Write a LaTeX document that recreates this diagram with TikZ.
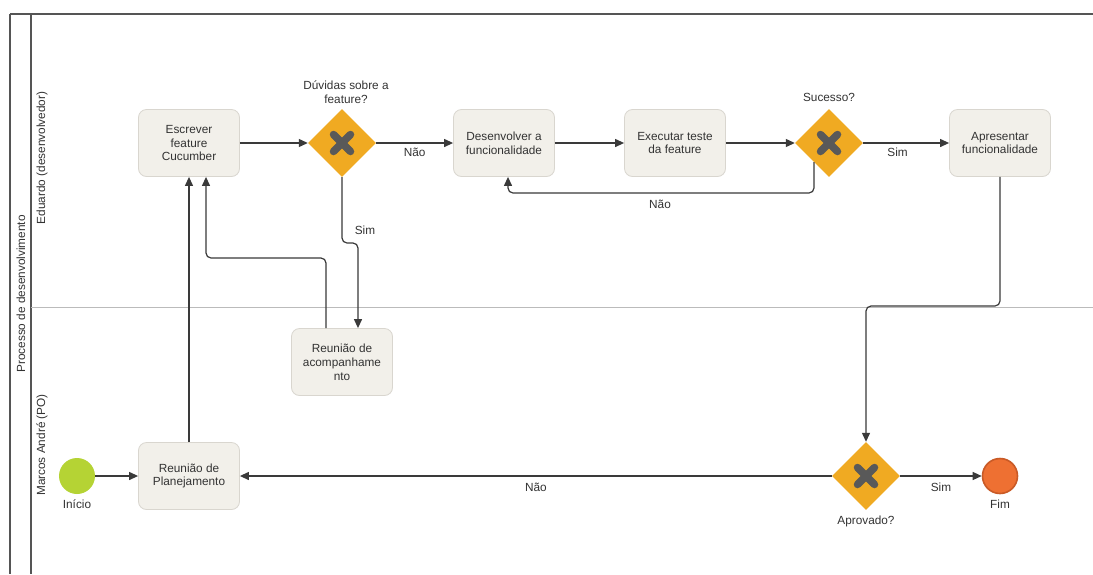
\documentclass[tikz,border=0pt]{standalone}
\usepackage{fontspec}
\setmainfont{Liberation Sans}
\usetikzlibrary{shapes.geometric,arrows.meta,calc,positioning}
\definecolor{boxfill}{HTML}{F2F0EA}
\definecolor{boxline}{HTML}{D9D6CF}
\definecolor{gwfill}{HTML}{F0AA22}
\definecolor{xmark}{HTML}{595959}
\definecolor{startfill}{HTML}{B5D334}
\definecolor{endfill}{HTML}{EE7032}
\definecolor{endline}{HTML}{C95A26}
\definecolor{conn}{HTML}{3A3A3A}
\definecolor{txt}{HTML}{333333}
\definecolor{poolline}{HTML}{555555}
\definecolor{laneline}{HTML}{BBBBBB}
\tikzset{
  task/.style={draw=boxline, fill=boxfill, rounded corners=8pt, minimum width=101pt, minimum height=67pt, align=center, text=txt, inner sep=2pt, line width=0.8pt},
  gw/.style={diamond, fill=gwfill, minimum size=68pt, inner sep=0pt, aspect=1},
  startev/.style={circle, fill=startfill, minimum size=36pt, inner sep=0pt},
  endev/.style={circle, fill=endfill, draw=endline, line width=1.6pt, minimum size=35pt, inner sep=0pt},
  flow/.style={draw=conn, line width=1.2pt, rounded corners=5pt, -{Triangle[length=9pt,width=8pt]}},
  lbl/.style={text=txt, inner sep=1pt},
}
\newcommand{\xmk}[1]{\draw[xmark, line width=7.5pt, line cap=round] ($(#1)+(-8.5,-8.5)$) -- ($(#1)+(8.5,8.5)$); \draw[xmark, line width=7.5pt, line cap=round] ($(#1)+(-8.5,8.5)$) -- ($(#1)+(8.5,-8.5)$);}
\begin{document}
\begin{tikzpicture}[x=1pt, y=-1pt, font=\fontsize{11.8}{13.8}\selectfont]
\useasboundingbox (0,0) rectangle (1093,574);
\fill[white] (0,0) rectangle (1093,574);
% pool and lanes
\draw[poolline, line width=1.5pt] (10,14) -- (1093,14);
\draw[poolline, line width=1.2pt] (10,14) -- (10,574);
\draw[poolline, line width=1.2pt] (31,14) -- (31,574);
\draw[laneline, line width=1pt] (31,307) -- (1093,307);
\node[lbl, rotate=90] (pool) at (21,294) {Processo de desenvolvimento};
\node[lbl, rotate=90] (lane1) at (42,158) {Eduardo (desenvolvedor)};
\node[lbl, rotate=90] (lane2) at (42,445) {Marcos André (PO)};
% nodes
\node[task] (esc) at (189,143) {Escrever\\feature\\Cucumber};
\node[gw] (g1) at (342,143) {};
\node[task] (des) at (504,143) {Desenvolver a\\funcionalidade};
\node[task] (exe) at (675,143) {Executar teste\\da feature};
\node[gw] (g2) at (829,143) {};
\node[task] (apr) at (1000,143) {Apresentar\\funcionalidade};
\node[task] (acomp) at (342,362) {Reunião de\\acompanhame\\nto};
\node[startev] (ini) at (77,476) {};
\node[task] (plan) at (189,476) {Reunião de\\Planejamento};
\node[gw] (g3) at (866,476) {};
\node[endev] (fim) at (1000,476) {};
\xmk{g1} \xmk{g2} \xmk{g3}
% labels of events and gateways
\node[lbl, align=center, above=4pt of g1.north, xshift=4pt] (g1l) {Dúvidas sobre a\\feature?};
\node[lbl, above=6pt of g2.north] (g2l) {Sucesso?};
\node[lbl, below=5pt of g3.south] (g3l) {Aprovado?};
\node[lbl, below=4pt of ini.south] (inil) {Início};
\node[lbl, below=4pt of fim.south] (fiml) {Fim};
% flows
\draw[flow] (ini) -- (plan);
\draw[flow] (plan.north) -- (esc.south);
\draw[flow] (esc) -- (g1);
\draw[flow] (g1.east) -- node[lbl, below=3pt] {Não} (des.west);
\draw[flow] (g1.south) -- (342,243) -- (358,243) -- ([xshift=16pt]acomp.north);
\node[lbl] (simA) at (365,230) {Sim};
\draw[flow] ([xshift=-16pt]acomp.north) |- (206,258) -- ([xshift=17pt]esc.south);
\draw[flow] (des) -- (exe);
\draw[flow] (exe) -- (g2);
\draw[flow] (g2.east) -- node[lbl, below=3pt, pos=0.4] {Sim} (apr.west);
\draw[flow] ([xshift=-15pt,yshift=-19pt]g2.center) |- (508,193) -- ([xshift=4pt]des.south);
\node[lbl] (naoB) at (660,204) {Não};
\draw[flow] (apr.south) |- (866,306) -- (g3.north);
\draw[flow] (g3.west) -- node[lbl, below=5pt] {Não} (plan.east);
\draw[flow] (g3.east) -- node[lbl, below=5pt] {Sim} (fim.west);
\end{tikzpicture}
\end{document}
